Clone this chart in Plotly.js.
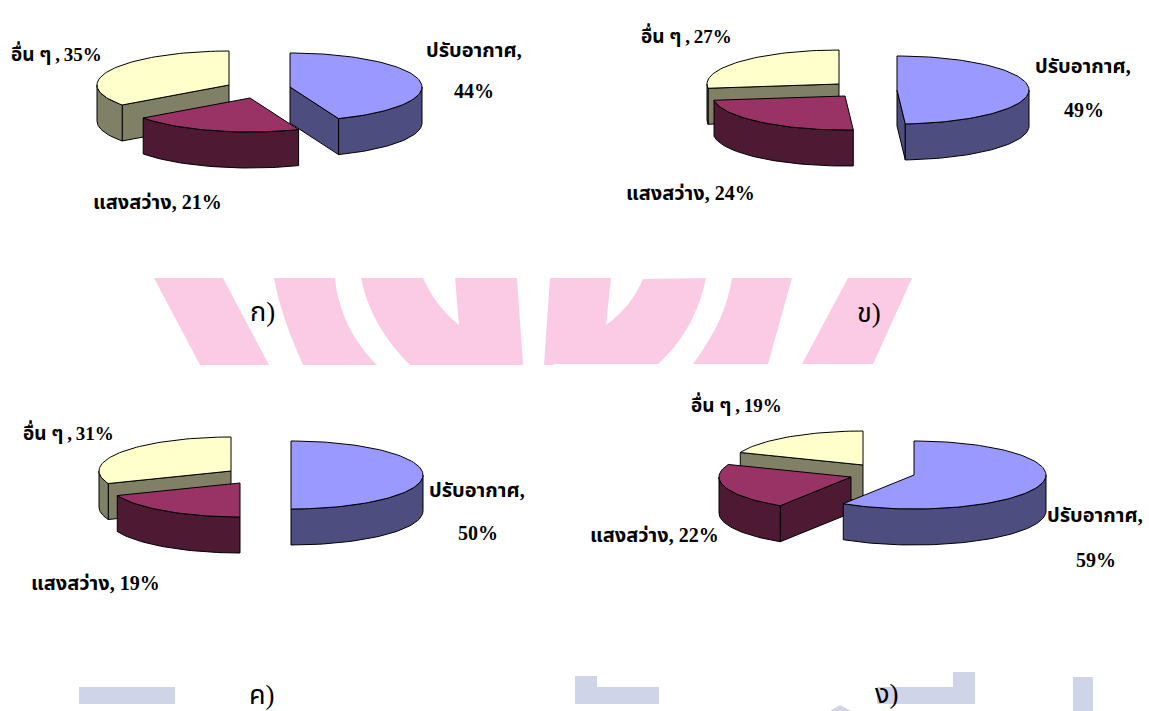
<!DOCTYPE html>
<html>
<head>
<meta charset="utf-8">
<script src="https://cdn.plot.ly/plotly-3.0.1.min.js"></script>
<style>html,body{margin:0;padding:0;background:#fff;overflow:hidden}</style>
</head>
<body>
<div id="chart" style="width:1149px;height:711px"></div>
<script>
// Energy use shares for four building types
const categories = ['ปรับอากาศ', 'แสงสว่าง', 'อื่น ๆ'];
const sharesA = [44, 21, 35];
const sharesB = [49, 24, 27];
const sharesC = [50, 19, 31];
const sharesD = [59, 22, 19];
const panelLetters = ['ก)', 'ข)', 'ค)', 'ง)'];

// Slice colours: top face and darker side face
const topColors = ['#9999FF', '#993366', '#FFFFCC'];
const sideColors = ['#4D4D80', '#4D1933', '#808066'];

// Pie projection and the pulled-out centre of each slice
const RX = 132, RY = 34, DEPTH = 36;
const pies = [
  { shares: sharesA, centers: [[290, 87], [250, 98], [229, 85]], panel: [262, 312],
    labels: [[474, 50, 1], [474, 91, 2], [157, 202, 0], [56, 53, 0]] },
  { shares: sharesB, centers: [[897, 90], [845, 96], [839, 84]], panel: [869, 313],
    labels: [[1083, 66, 1], [1084, 110, 2], [690, 193, 0], [686, 35, 0]] },
  { shares: sharesC, centers: [[291, 475], [240, 483], [231, 471]], panel: [262, 695],
    labels: [[477, 490, 1], [478, 533, 2], [95, 583, 0], [68, 432, 0]] },
  { shares: sharesD, centers: [[914, 475], [851, 477], [863, 465]], panel: [887, 694],
    labels: [[1095, 515, 1], [1096, 560, 2], [654, 535, 0], [736, 404, 0]] }
];

// Point on the rim; angle runs clockwise from twelve o'clock
function rim(c, deg, drop) {
  const r = deg * Math.PI / 180;
  return [c[0] + RX * Math.sin(r), c[1] - RY * Math.cos(r) + (drop || 0)];
}
function arc(c, from, to, drop) {
  const pts = [], n = Math.max(2, Math.ceil(Math.abs(to - from) / 2));
  for (let i = 0; i <= n; i++) pts.push(rim(c, from + (to - from) * i / n, drop));
  return pts;
}
function face(pts, color) {
  const closed = pts.concat([pts[0]]);
  return {
    type: 'scatter', mode: 'lines', fill: 'toself', fillcolor: color,
    x: closed.map(p => p[0]), y: closed.map(p => p[1]),
    line: { color: '#000000', width: 1 }, hoverinfo: 'skip', showlegend: false
  };
}
function radialFace(c, deg, color) {
  const e = rim(c, deg);
  return face([c, e, [e[0], e[1] + DEPTH], [c[0], c[1] + DEPTH]], color);
}

const traces = [];
const annotations = [];
const label = (x, y, text, size, bold) => annotations.push({
  x, y, xref: 'x', yref: 'y', text: bold ? '<b>' + text + '</b>' : text, showarrow: false,
  xanchor: 'center', yanchor: 'middle',
  font: { family: '"Liberation Serif", "Noto Sans Thai", serif', size, color: '#000000' }
});

pies.forEach(pie => {
  // Slice angle ranges follow the shares
  let start = 0;
  const ranges = pie.shares.map(v => { const r = [start, start + v * 3.6]; start = r[1]; return r; });
  [2, 1, 0].forEach(i => {
    const c = pie.centers[i], a = ranges[i][0], b = ranges[i][1];
    if (Math.sin(a * Math.PI / 180) < -1e-6) traces.push(radialFace(c, a, sideColors[i]));
    if (Math.sin(b * Math.PI / 180) > 1e-6) traces.push(radialFace(c, b, sideColors[i]));
    const lo = Math.max(a, 90), hi = Math.min(b, 270);
    if (hi > lo) traces.push(face(arc(c, lo, hi, 0).concat(arc(c, hi, lo, DEPTH)), sideColors[i]));
    traces.push(face([c].concat(arc(c, a, b, 0)), topColors[i]));
  });
  // Text: name line, value line, then the two labels that hold name and value together
  const [blue, blueValue, red, yellow] = pie.labels;
  label(blue[0], blue[1], categories[0] + ',', 20, true);
  label(blueValue[0], blueValue[1], pie.shares[0] + '%', 20, true);
  label(red[0], red[1], categories[1] + ', ' + pie.shares[1] + '%', 20, true);
  label(yellow[0], yellow[1], categories[2] + '\u2009,\u2009' + pie.shares[2] + '%', 19, true);
});
pies.forEach((pie, i) => label(pie.panel[0], pie.panel[1], panelLetters[i], 27, false));

// Faint background emblem, clipped to bands behind the panel letters
const PINK = '#FBCBE5', LAVENDER = '#D0D4E9';
const blob = (path, color) => ({ type: 'path', path, xref: 'x', yref: 'y', layer: 'below', fillcolor: color, line: { width: 0 } });
const shapes = [
  blob('M154,278 L223,278 L269,365 L200,365 Z', PINK),
  blob('M274,278 L335,278 C338,310 352,340 377,365 L303,365 C290,335 280,310 274,278 Z', PINK),
  blob('M361,278 L423,278 C432,298 444,313 459,325 L455,278 L517,278 L523,365 L410,365 C385,340 368,312 361,278 Z', PINK),
  blob('M550,278 L611,278 L606,325 C622,314 635,298 643,279 L706,278 C698,315 682,342 658,364 L554,364 L554,365 L544,365 Z', PINK),
  blob('M732,278 L792,278 L768,364 L693,364 C714,335 727,310 732,278 Z', PINK),
  blob('M848,278 L912,278 L873,364 L802,364 Z', PINK),
  blob('M79,687 L175,687 L175,704 L79,704 Z', LAVENDER),
  blob('M575,676 L597,676 L597,687 L659,687 L659,704 L575,704 Z', LAVENDER),
  blob('M877,687 L953,687 L953,672 L975,672 L975,704 L877,704 Z', LAVENDER),
  blob('M1073,677 L1093,677 L1093,711 L1073,711 Z', LAVENDER),
  blob('M830,711 L840,705 L851,711 Z', LAVENDER)
];

Plotly.newPlot('chart', traces, {
  width: 1149, height: 711,
  margin: { l: 0, r: 0, t: 0, b: 0 },
  paper_bgcolor: '#FFFFFF', plot_bgcolor: '#FFFFFF',
  xaxis: { range: [0, 1149], visible: false, fixedrange: true },
  yaxis: { range: [711, 0], visible: false, fixedrange: true },
  annotations, shapes, showlegend: false
}, { displayModeBar: false, staticPlot: true });
</script>
</body>
</html>
